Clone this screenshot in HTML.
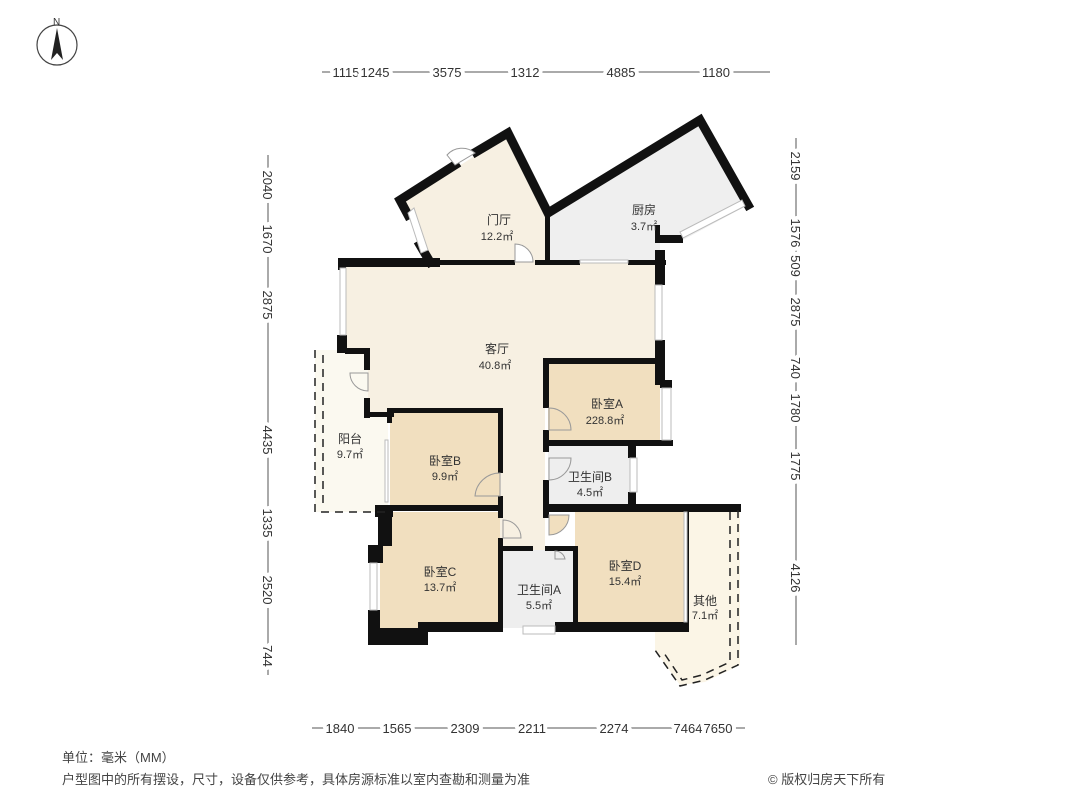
<!DOCTYPE html>
<html><head><meta charset="utf-8"><style>
html,body{margin:0;padding:0;background:#fff;}
svg{display:block;font-family:"Liberation Sans","Noto Sans CJK SC",sans-serif;}
.d{font-size:13px;fill:#333;stroke:#fff;stroke-width:8px;paint-order:stroke;stroke-linejoin:round;}
.r{font-size:12px;fill:#333;text-anchor:middle;}
.w{fill:none;stroke:#111;}
</style></head><body>
<svg width="1066" height="800" viewBox="0 0 1066 800" xmlns="http://www.w3.org/2000/svg">
<circle cx="57" cy="45" r="20" fill="none" stroke="#444" stroke-width="1.2"/>
<polygon points="57,28 51,60 57,53 63,60" fill="#222"/>
<text x="53" y="25" font-size="10" fill="#333">N</text>

<polygon points="340,262 660,262 660,362 545,362 545,550 500,550 500,410 388,410 388,415 368,415 368,352 345,352 345,262" fill="#f7f0e2"/>
<polygon points="315,350 345,350 368,352 368,415 388,415 388,512 315,512" fill="#fbf9f0"/>
<polygon points="402,203 507,135 548,215 548,262 432,262" fill="#f7f0e2"/>
<polygon points="548,215 700,120 748,205 683,240 660,240 660,262 548,262" fill="#efefef"/>
<rect x="548" y="362" width="112" height="82" fill="#f1dfbf"/>
<rect x="548" y="446" width="82" height="60" fill="#eeeeee"/>
<rect x="390" y="412" width="110" height="98" fill="#f1dfbf"/>
<polygon points="380,512 500,512 500,626 420,626 420,632 380,632" fill="#f1dfbf"/>
<rect x="503" y="550" width="72" height="78" fill="#eeeeee"/>
<rect x="575" y="510" width="111" height="118" fill="#f1dfbf"/>
<polygon points="686,508 740,508 740,665 705,682 680,685 655,650 655,628 686,628" fill="#fbf5e6"/>

<g fill="#111">
<rect x="338" y="258" width="102" height="9"/>
<rect x="440" y="260" width="75" height="5"/>
<rect x="535" y="260" width="45" height="5"/>
<rect x="628" y="260" width="38" height="5"/>
<rect x="655" y="250" width="10" height="35"/>
<rect x="655" y="340" width="10" height="45"/>
<rect x="660" y="380" width="12" height="8"/>
<rect x="338" y="258" width="8" height="12"/>
<rect x="337" y="335" width="10" height="18"/>
<rect x="345" y="348" width="25" height="6"/>
<rect x="364" y="348" width="6" height="22"/>
<rect x="364" y="398" width="6" height="20"/>
<rect x="364" y="412" width="30" height="5"/>
<rect x="387" y="408" width="116" height="5"/>
<rect x="498" y="408" width="5" height="65"/>
<rect x="498" y="496" width="5" height="22"/>
<rect x="387" y="408" width="5" height="15"/>
<rect x="375" y="505" width="128" height="6"/>
<rect x="375" y="505" width="18" height="12"/>
<rect x="378" y="511" width="14" height="35"/>
<rect x="368" y="545" width="15" height="18"/>
<rect x="368" y="610" width="12" height="35"/>
<rect x="368" y="628" width="60" height="17"/>
<rect x="418" y="622" width="85" height="10"/>
<rect x="498" y="538" width="5" height="94"/>
<rect x="498" y="546" width="35" height="5"/>
<rect x="545" y="546" width="32" height="5"/>
<rect x="573" y="546" width="5" height="85"/>
<rect x="555" y="622" width="134" height="10"/>
<rect x="684" y="505" width="5" height="125"/>
<rect x="543" y="358" width="122" height="6"/>
<rect x="543" y="358" width="6" height="50"/>
<rect x="543" y="430" width="6" height="22"/>
<rect x="543" y="440" width="130" height="6"/>
<rect x="628" y="440" width="8" height="18"/>
<rect x="628" y="492" width="8" height="18"/>
<rect x="543" y="480" width="6" height="30"/>
<rect x="543" y="504" width="198" height="8"/>
<rect x="543" y="504" width="6" height="14"/>
<rect x="545" y="215" width="5" height="47"/>
<rect x="655" y="235" width="28" height="8"/>
<rect x="655" y="225" width="5" height="15"/>
</g>
<g class="w" stroke-width="9" stroke-linecap="square">
<polyline points="430,262 420,245"/>
<polyline points="408,215 400,200 455,165"/>
<polyline points="476,152 508,133 548,213 700,120 748,205"/>
</g>
<g stroke="#bbb" stroke-width="1" fill="#fff">
<rect x="340" y="268" width="6" height="67"/>
<rect x="655" y="285" width="7" height="55"/>
<rect x="662" y="388" width="9" height="52"/>
<rect x="630" y="458" width="7" height="34"/>
<rect x="370" y="563" width="7" height="47"/>
<rect x="523" y="626" width="32" height="8"/>
<rect x="385" y="440" width="3" height="62"/>
<rect x="684" y="512" width="3" height="110"/>
<rect x="580" y="260" width="48" height="3"/>
<polygon points="408,213 414,208 428,250 421,253"/>
<polygon points="683,238 680,232 742,200 745,206"/>
</g>
<g fill="none" stroke="#222" stroke-width="1.5" stroke-dasharray="8,6">
<polyline points="315,350 315,512 385,512"/>
<polyline points="323,355 323,505"/>
<polyline points="738,510 738,665 705,680 680,686 655,650"/>
<polyline points="730,512 730,662 702,675 682,680 662,650"/>
</g>
<g fill="#fff" stroke="#999" stroke-width="1">
<path d="M515,262 v-18 a18,18 0 0 1 18,18 z"/>
<path d="M455,165 l-8,-10 a20,20 0 0 1 28,-2 z"/>
<path d="M368,373 h-18 a18,18 0 0 0 18,18 z" fill="#fbf9f0"/>
<path d="M500,473 v23 h-25 a25,25 0 0 1 25,-23 z" fill="#f1dfbf"/>
<path d="M549,408 v22 h22 a22,22 0 0 0 -22,-22 z" fill="#f1dfbf"/>
<path d="M549,458 v22 a22,22 0 0 0 22,-22 z" fill="#eee"/>
<path d="M549,515 v20 a20,20 0 0 0 20,-20 z" fill="#f1dfbf"/>
<path d="M503,520 v18 h18 a18,18 0 0 0 -18,-18 z" fill="#f7f0e2"/>
<path d="M555,551 v8 h10 a10,10 0 0 0 -10,-8 z" fill="#eee"/>
</g>
<g class="r">
<text x="499" y="224">门厅</text><text x="497" y="240" font-size="11">12.2㎡</text>
<text x="644" y="214">厨房</text><text x="644" y="230" font-size="11">3.7㎡</text>
<text x="497" y="353">客厅</text><text x="495" y="369" font-size="11">40.8㎡</text>
<text x="607" y="408">卧室A</text><text x="605" y="424" font-size="11">228.8㎡</text>
<text x="445" y="465">卧室B</text><text x="445" y="480" font-size="11">9.9㎡</text>
<text x="350" y="443">阳台</text><text x="350" y="458" font-size="11">9.7㎡</text>
<text x="590" y="481">卫生间B</text><text x="590" y="496" font-size="11">4.5㎡</text>
<text x="440" y="576">卧室C</text><text x="440" y="591" font-size="11">13.7㎡</text>
<text x="539" y="594">卫生间A</text><text x="539" y="609" font-size="11">5.5㎡</text>
<text x="625" y="570">卧室D</text><text x="625" y="585" font-size="11">15.4㎡</text>
<text x="705" y="605">其他</text><text x="705" y="619" font-size="11">7.1㎡</text>
</g>
<g stroke="#555" stroke-width="1">
<line x1="322" y1="72" x2="770" y2="72"/>
<line x1="312" y1="728" x2="745" y2="728"/>
<line x1="268" y1="155" x2="268" y2="675"/>
<line x1="796" y1="138" x2="796" y2="645"/>
</g>
<g class="d" text-anchor="middle">
<text x="346" y="77">1115</text><text x="375" y="77">1245</text><text x="447" y="77">3575</text><text x="525" y="77">1312</text><text x="621" y="77">4885</text><text x="716" y="77">1180</text>
<text x="340" y="733">1840</text><text x="397" y="733">1565</text><text x="465" y="733">2309</text><text x="532" y="733">2211</text><text x="614" y="733">2274</text><text x="688" y="733">7464</text><text x="718" y="733">7650</text>
<g transform="translate(263,0)">
<text transform="translate(0,185) rotate(90)">2040</text>
<text transform="translate(0,239) rotate(90)">1670</text>
<text transform="translate(0,305) rotate(90)">2875</text>
<text transform="translate(0,440) rotate(90)">4435</text>
<text transform="translate(0,523) rotate(90)">1335</text>
<text transform="translate(0,590) rotate(90)">2520</text>
<text transform="translate(0,656) rotate(90)">744</text>
</g>
<g transform="translate(791,0)">
<text transform="translate(0,166) rotate(90)">2159</text>
<text transform="translate(0,233) rotate(90)">1576</text>
<text transform="translate(0,266) rotate(90)">509</text>
<text transform="translate(0,312) rotate(90)">2875</text>
<text transform="translate(0,368) rotate(90)">740</text>
<text transform="translate(0,408) rotate(90)">1780</text>
<text transform="translate(0,466) rotate(90)">1775</text>
<text transform="translate(0,578) rotate(90)">4126</text>
</g>
</g>
<text x="62" y="762" font-size="13" fill="#444">单位：毫米（MM）</text>
<text x="62" y="784" font-size="13" fill="#444">户型图中的所有摆设，尺寸，设备仅供参考，具体房源标准以室内查勘和测量为准</text>
<text x="768" y="784" font-size="13" fill="#444">© 版权归房天下所有</text>
</svg>
</body></html>
